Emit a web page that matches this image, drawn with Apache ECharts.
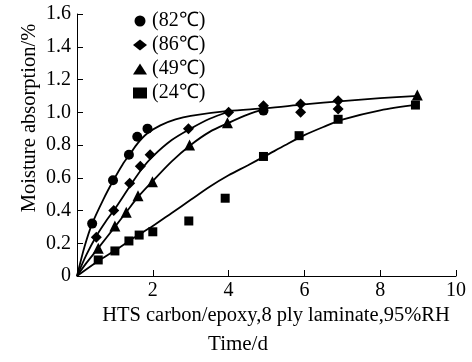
<!DOCTYPE html>
<html><head><meta charset="utf-8">
<script src="https://cdn.jsdelivr.net/npm/echarts@6/dist/echarts.min.js"></script>
<style>html,body{margin:0;padding:0;background:#fff}#c{width:472px;height:362px}</style>
</head><body><div id="c"></div>
<script>
// ---- data ----
const seriesNames = ['(82℃)', '(86℃)', '(49℃)', '(24℃)'];
const pts82 = [[0.4,0.32],[0.95,0.585],[1.37,0.74],[1.59,0.85],[1.86,0.90],[4.92,1.01]];
const pts86 = [[0.51,0.236],[0.97,0.40],[1.39,0.566],[1.67,0.67],[1.93,0.74],[2.94,0.90],[4.0,1.0],[4.92,1.04],[5.9,1.05],[5.9,1.0],[6.89,1.07],[6.89,1.02]];
const pts49 = [[0.56,0.17],[1.0,0.305],[1.30,0.39],[1.61,0.49],[1.99,0.576],[2.97,0.80],[3.97,0.936],[8.98,1.105]];
const pts24 = [[0.56,0.098],[1.0,0.153],[1.37,0.214],[1.64,0.25],[2.0,0.27],[2.95,0.336],[3.91,0.475],[4.92,0.73],[5.86,0.857],[6.89,0.957],[8.93,1.044]];
// fitted curves
const fit82 = [[0,0],[0.2,0.18],[0.4,0.32],[0.7,0.47],[0.95,0.58],[1.2,0.68],[1.4,0.745],[1.6,0.81],[1.85,0.87],[2.2,0.92],[2.6,0.956],[3,0.978],[4,1.008],[5,1.025],[6,1.048],[7,1.068],[8,1.086],[9,1.1]];
const fit86 = [[0,0],[0.25,0.13],[0.5,0.24],[0.75,0.33],[1,0.41],[1.4,0.55],[1.7,0.65],[2,0.73],[2.5,0.83],[3,0.90],[3.5,0.96],[4,1.003]];
const fit49 = [[0,0],[0.25,0.08],[0.56,0.17],[1,0.30],[1.3,0.39],[1.6,0.48],[2,0.58],[2.5,0.70],[3,0.80],[3.5,0.88],[4,0.935],[4.5,0.985],[5,1.023]];
const fit24 = [[0,0],[0.56,0.092],[1,0.156],[1.5,0.233],[2,0.305],[2.5,0.385],[3,0.465],[3.5,0.545],[4,0.615],[4.5,0.675],[5,0.737],[5.5,0.80],[6,0.86],[6.5,0.91],[7,0.955],[8,1.012],[9,1.046]];
const xTicks = [0, 10, 2];   // min, max, interval
const yTicks = [0, 1.6, 0.2];
const xAxisTitle = 'Time/d';
const subTitle = 'HTS carbon/epoxy,8 ply laminate,95%RH';
const yAxisTitle = 'Moisture absorption/%';

const FONT = "'Liberation Serif','Times New Roman',serif";
const symbols = ['circle', 'diamond', 'triangle', 'rect'];
const sizes = [10, 11, 11, 9];
const pts = [pts82, pts86, pts49, pts24];
const fits = [fit82, fit86, fit49, fit24];

const series = [];
fits.forEach((f, i) => {
  series.push({
    name: 'fit' + i, type: 'line', data: f, smooth: 0.3,
    showSymbol: false, symbol: 'none', silent: true,
    lineStyle: { color: '#000', width: 1.8 }, z: 2
  });
});
pts.forEach((p, i) => {
  series.push({
    name: seriesNames[i], type: 'scatter', data: p, symbol: symbols[i], symbolSize: sizes[i],
    itemStyle: { color: '#000', opacity: 1 }, z: 3
  });
});

const chart = echarts.init(document.getElementById('c'), null, { renderer: 'canvas' });
chart.setOption({
  animation: false,
  backgroundColor: '#fff',
  textStyle: { fontFamily: FONT },
  grid: { left: 77, right: 16, top: 14, bottom: 86, containLabel: false },
  legend: {
    data: seriesNames.map((n, i) => ({ name: n, icon: symbols[i], itemStyle: { color: '#000', opacity: 1 } })),
    orient: 'vertical', left: 128, top: 6, itemWidth: 14, itemHeight: 11, itemGap: 4,
    textStyle: { fontFamily: FONT, fontSize: 20, color: '#000', lineHeight: 20 },
    selectedMode: false
  },
  xAxis: {
    type: 'value', min: xTicks[0], max: xTicks[1], interval: xTicks[2],
    axisLine: { lineStyle: { color: '#000', width: 1 } },
    axisTick: { inside: true, length: 6, lineStyle: { color: '#000' } },
    splitLine: { show: false },
    axisLabel: { color: '#000', fontSize: 20, fontFamily: FONT, margin: 5,
      formatter: v => v === 0 ? '' : String(v) }
  },
  yAxis: {
    type: 'value', min: yTicks[0], max: yTicks[1], interval: yTicks[2],
    axisLine: { show: true, lineStyle: { color: '#000', width: 1 } },
    axisTick: { show: true, inside: true, length: 6, lineStyle: { color: '#000' } },
    splitLine: { show: false },
    axisLabel: { color: '#000', fontSize: 20, fontFamily: FONT, margin: 6,
      formatter: v => v === 0 ? '0' : v.toFixed(1) }
  },
  graphic: [
    { type: 'text', x: 276, y: 316, style: { text: subTitle, font: "20.5px " + FONT, fill: '#000', align: 'center', verticalAlign: 'middle' } },
    { type: 'text', x: 238, y: 344, style: { text: xAxisTitle, font: "21px " + FONT, fill: '#000', align: 'center', verticalAlign: 'middle' } },
    { type: 'text', x: 30, y: 118, rotation: Math.PI / 2, style: { text: yAxisTitle, font: "20.5px " + FONT, fill: '#000', align: 'center', verticalAlign: 'middle' } }
  ],
  series: series
});
</script></body></html>
